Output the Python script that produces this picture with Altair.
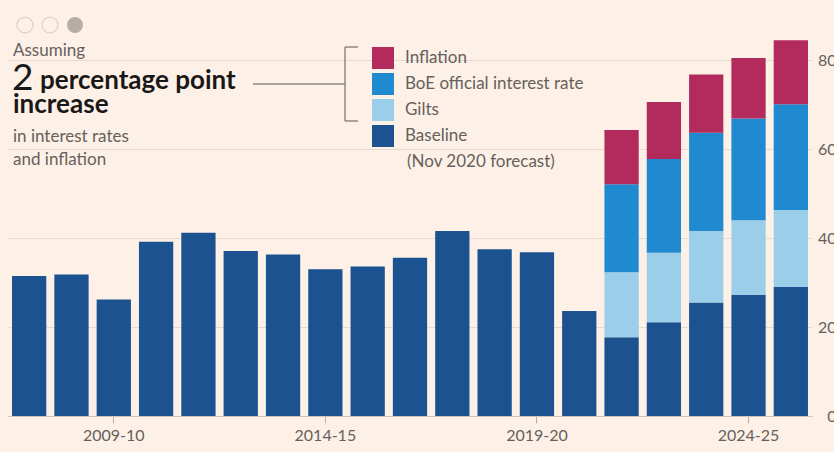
import altair as alt
import pandas as pd

# ---------------- data ----------------
years = ["2007-08", "2008-09", "2009-10", "2010-11", "2011-12", "2012-13",
         "2013-14", "2014-15", "2015-16", "2016-17", "2017-18", "2018-19",
         "2019-20", "2020-21", "2021-22", "2022-23", "2023-24", "2024-25",
         "2025-26"]
baseline = [31.5, 31.8, 26.2, 39.2, 41.2, 37.1, 36.3, 33.0, 33.6, 35.6,
            41.6, 37.5, 36.8, 23.6, 17.7, 21.1, 25.5, 27.2, 29.0]
forecast_years = years[-5:]
gilts = [14.6, 15.6, 16.1, 16.8, 17.3]
boe_rate = [19.8, 21.1, 22.1, 22.9, 23.8]
inflation = [12.2, 12.8, 13.1, 13.6, 14.4]

series = ["Inflation", "BoE official interest rate", "Gilts", "Baseline"]
colors = ["#b32b5c", "#1f8ad0", "#9bcfe9", "#1d5290"]
tick_years = ["2009-10", "2014-15", "2019-20", "2024-25"]
y_ticks = [0, 20, 40, 60, 80]

rows = []
for yr, v in zip(years, baseline):
    rows.append({"year": yr, "component": "Baseline", "value": v, "ord": 0})
for yr, g, b, i in zip(forecast_years, gilts, boe_rate, inflation):
    rows.append({"year": yr, "component": "Gilts", "value": g, "ord": 1})
    rows.append({"year": yr, "component": "BoE official interest rate", "value": b, "ord": 2})
    rows.append({"year": yr, "component": "Inflation", "value": i, "ord": 3})
df = pd.DataFrame(rows)

FONT = "Lato"
GREY = "#66605c"
DARK = "#1a1817"
LINE = "#8f8882"
BG = "#fdf0e6"

bars = alt.Chart(df).mark_bar().encode(
    x=alt.X("year:N", sort=years,
            scale=alt.Scale(paddingInner=0.19, paddingOuter=0.095),
            axis=alt.Axis(values=tick_years, title=None, labelAngle=0,
                          tickSize=7, tickColor="#b9aea6", tickWidth=1,
                          domainColor="#cfc3ba", domainWidth=1,
                          labelFont=FONT, labelFontSize=16, labelColor=GREY,
                          labelPadding=4, grid=False)),
    y=alt.Y("value:Q", stack="zero",
            scale=alt.Scale(domain=[0, 85], nice=False),
            axis=alt.Axis(orient="right", values=y_ticks, title=None,
                          ticks=False, tickSize=0, domain=False,
                          labelAlign="right", labelPadding=24,
                          labelFont=FONT, labelFontSize=16, labelColor=GREY,
                          grid=True, gridColor="#e8d9ce", gridWidth=1)),
    color=alt.Color("component:N",
                    scale=alt.Scale(domain=series, range=colors),
                    legend=alt.Legend(orient="none", legendX=364, legendY=9,
                                      title=None, symbolType="square",
                                      symbolSize=484, symbolStrokeWidth=0,
                                      symbolOpacity=1, labelFont=FONT,
                                      labelFontSize=17, labelColor=GREY,
                                      labelLimit=300, rowPadding=4,
                                      labelOffset=11)),
    order=alt.Order("ord:Q", sort="ascending"),
)

one = pd.DataFrame({"a": [0]})


def txt(text, x, y, size, color, weight="normal"):
    return alt.Chart(one).mark_text(
        text=text, align="left", baseline="alphabetic", font=FONT,
        fontSize=size, fontWeight=weight, color=color
    ).encode(x=alt.value(x), y=alt.value(y))


def rule(x, x2, y, y2):
    return alt.Chart(one).mark_rule(color=LINE, strokeWidth=1.5).encode(
        x=alt.value(x), x2=alt.value(x2), y=alt.value(y), y2=alt.value(y2))


# offsets: plot origin is at (8, 38) in the page
OX, OY = 8, 38
texts = [
    txt("Assuming", 13 - OX, 56 - OY, 17, GREY),
    txt("2", 12 - OX, 90 - OY, 37, DARK),
    txt("percentage point", 40 - OX, 89 - OY, 26, DARK, "bold"),
    txt("increase", 13 - OX, 113 - OY, 26, DARK, "bold"),
    txt("in interest rates", 13 - OX, 142 - OY, 17, GREY),
    txt("and inflation", 13 - OX, 165 - OY, 17, GREY),
    txt("(Nov 2020 forecast)", 407 - OX, 167 - OY, 17, GREY),
]
rules = [
    rule(253 - OX, 345 - OX, 84 - OY, 84 - OY),
    rule(345 - OX, 345 - OX, 47 - OY, 121 - OY),
    rule(345 - OX, 358 - OX, 47 - OY, 47 - OY),
    rule(345 - OX, 358 - OX, 121 - OY, 121 - OY),
]
dots_open = [
    alt.Chart(one).mark_point(shape="circle", filled=False, size=254,
                              color="#ddd3cb", strokeWidth=1.3, opacity=1)
    .encode(x=alt.value(cx - OX), y=alt.value(25 - OY))
    for cx in (25, 50)
]
dot_fill = alt.Chart(one).mark_circle(size=254, color="#b8ada6", opacity=1).encode(
    x=alt.value(75 - OX), y=alt.value(25 - OY))

chart = alt.layer(bars, *rules, *texts, *dots_open, dot_fill).properties(
    width=804, height=378,
    autosize=alt.AutoSizeParams(type="none"),
    padding={"left": 8, "top": 38, "right": 22, "bottom": 36},
    background=BG,
).configure_view(stroke=None)

chart.save("out.html", embed_options={"renderer": "svg", "actions": False})
